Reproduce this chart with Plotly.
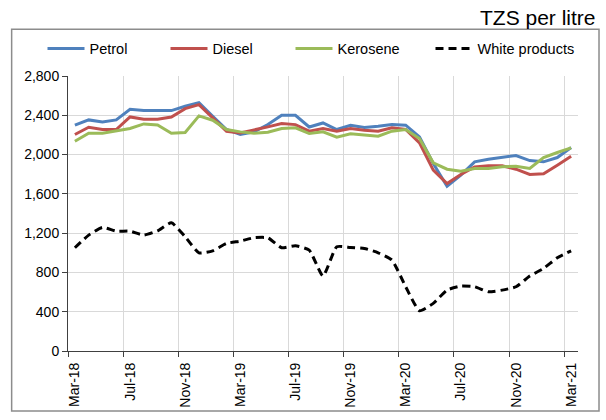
import plotly.graph_objects as go

months = ["Mar-18","Apr-18","May-18","Jun-18","Jul-18","Aug-18","Sep-18","Oct-18","Nov-18","Dec-18",
          "Jan-19","Feb-19","Mar-19","Apr-19","May-19","Jun-19","Jul-19","Aug-19","Sep-19","Oct-19",
          "Nov-19","Dec-19","Jan-20","Feb-20","Mar-20","Apr-20","May-20","Jun-20","Jul-20","Aug-20",
          "Sep-20","Oct-20","Nov-20","Dec-20","Jan-21","Feb-21","Mar-21"]

petrol = [2299, 2353, 2333, 2353, 2461, 2448, 2448, 2448, 2492, 2529,
          2390, 2255, 2204, 2231, 2306, 2400, 2400, 2281, 2322, 2255,
          2299, 2275, 2288, 2305, 2299, 2180, 1909, 1678, 1790, 1926,
          1953, 1973, 1990, 1939, 1926, 1970, 2072]
diesel = [2204, 2278, 2255, 2255, 2383, 2360, 2360, 2383, 2468, 2509,
          2373, 2238, 2221, 2248, 2282, 2316, 2305, 2238, 2265, 2238,
          2265, 2248, 2238, 2272, 2255, 2119, 1841, 1705, 1797, 1875,
          1885, 1885, 1851, 1797, 1804, 1892, 1983]
kerosene = [2136, 2217, 2217, 2238, 2265, 2312, 2302, 2217, 2224, 2394,
            2350, 2255, 2231, 2217, 2228, 2265, 2272, 2214, 2231, 2177,
            2211, 2200, 2187, 2238, 2255, 2163, 1916, 1851, 1831, 1858,
            1858, 1875, 1882, 1858, 1970, 2021, 2068]
white = [1051, 1180, 1258, 1220, 1220, 1180, 1224, 1305, 1163, 1000,
         1020, 1095, 1119, 1153, 1153, 1051, 1071, 1027, 763, 1061,
         1054, 1044, 1000, 926, 654, 410, 485, 620, 661, 654,
         603, 620, 654, 763, 841, 949, 1020]

y_ticks = [0, 400, 800, 1200, 1600, 2000, 2400, 2800]
label_step = 4

idx = list(range(len(months)))
label_idx = idx[::label_step]
label_text = [months[i] for i in label_idx]
boundary_vals = [i - 0.5 for i in label_idx]

FONT = "Arial, Liberation Sans, sans-serif"

fig = go.Figure()
fig.add_trace(go.Scatter(x=idx, y=petrol, name="Petrol", mode="lines", legendwidth=71,
                         line=dict(color="#4F81BD", width=3)))
fig.add_trace(go.Scatter(x=idx, y=diesel, name="Diesel", mode="lines", legendwidth=73,
                         line=dict(color="#C0504D", width=3)))
fig.add_trace(go.Scatter(x=idx, y=kerosene, name="Kerosene", mode="lines", legendwidth=88,
                         line=dict(color="#9BBB59", width=3)))
fig.add_trace(go.Scatter(x=idx, y=white, name="White products", mode="lines",
                         line=dict(color="black", width=3, dash="8px,5px",
                                   shape="spline", smoothing=0.5)))
# helper trace for the label axis
fig.add_trace(go.Scatter(x=[idx[0], idx[-1]], y=[None, None], xaxis="x2",
                         showlegend=False, hoverinfo="skip", mode="lines"))

xr = [-0.5, len(months) - 0.5]

fig.update_layout(
    width=606, height=420,
    margin=dict(l=68, r=28, t=76, b=69),
    paper_bgcolor="white", plot_bgcolor="white",
    font=dict(family=FONT, size=14, color="black"),
    showlegend=True,
    legend=dict(orientation="h", x=-0.05, xanchor="left", y=1.1, yanchor="middle",
                itemwidth=37,
                font=dict(size=14.5, color="black"), bgcolor="rgba(0,0,0,0)"),
    xaxis=dict(range=xr, tickmode="array", tickvals=boundary_vals, showticklabels=False,
               showgrid=True, gridcolor="#D9D9D9", gridwidth=1, zeroline=False,
               ticks="outside", ticklen=5, tickcolor="#404040",
               showline=True, linecolor="#404040", linewidth=1),
    xaxis2=dict(range=xr, overlaying="x", side="bottom", tickmode="array",
                tickvals=label_idx, ticktext=label_text, tickangle=-90,
                showgrid=False, zeroline=False, ticks="outside", ticklen=5,
                tickcolor="rgba(0,0,0,0)", showline=False,
                tickfont=dict(size=14, color="black")),
    yaxis=dict(range=[0, 2800], tickmode="array", tickvals=y_ticks,
               ticktext=[f"{v:,}" for v in y_ticks],
               showgrid=True, gridcolor="#D9D9D9", gridwidth=1, zeroline=False,
               ticks="outside", ticklen=5, tickcolor="#404040",
               showline=True, linecolor="#404040", linewidth=1,
               tickfont=dict(size=14, color="black")),
)

fig.add_annotation(text="TZS per litre", xref="paper", yref="paper",
                   x=1.04, y=1.213, xanchor="right", yanchor="middle",
                   showarrow=False, font=dict(size=21, color="black", family=FONT))

fig.add_shape(type="rect", xref="paper", yref="paper",
              x0=-0.1105, x1=1.0412, y0=-0.218, y1=1.1696,
              line=dict(color="#8C8C8C", width=1.5), fillcolor="rgba(0,0,0,0)", layer="below")

fig.write_html("out.html",
               config={"displayModeBar": False},
               post_script="document.body.style.margin='0px';document.body.style.overflow='hidden';")
